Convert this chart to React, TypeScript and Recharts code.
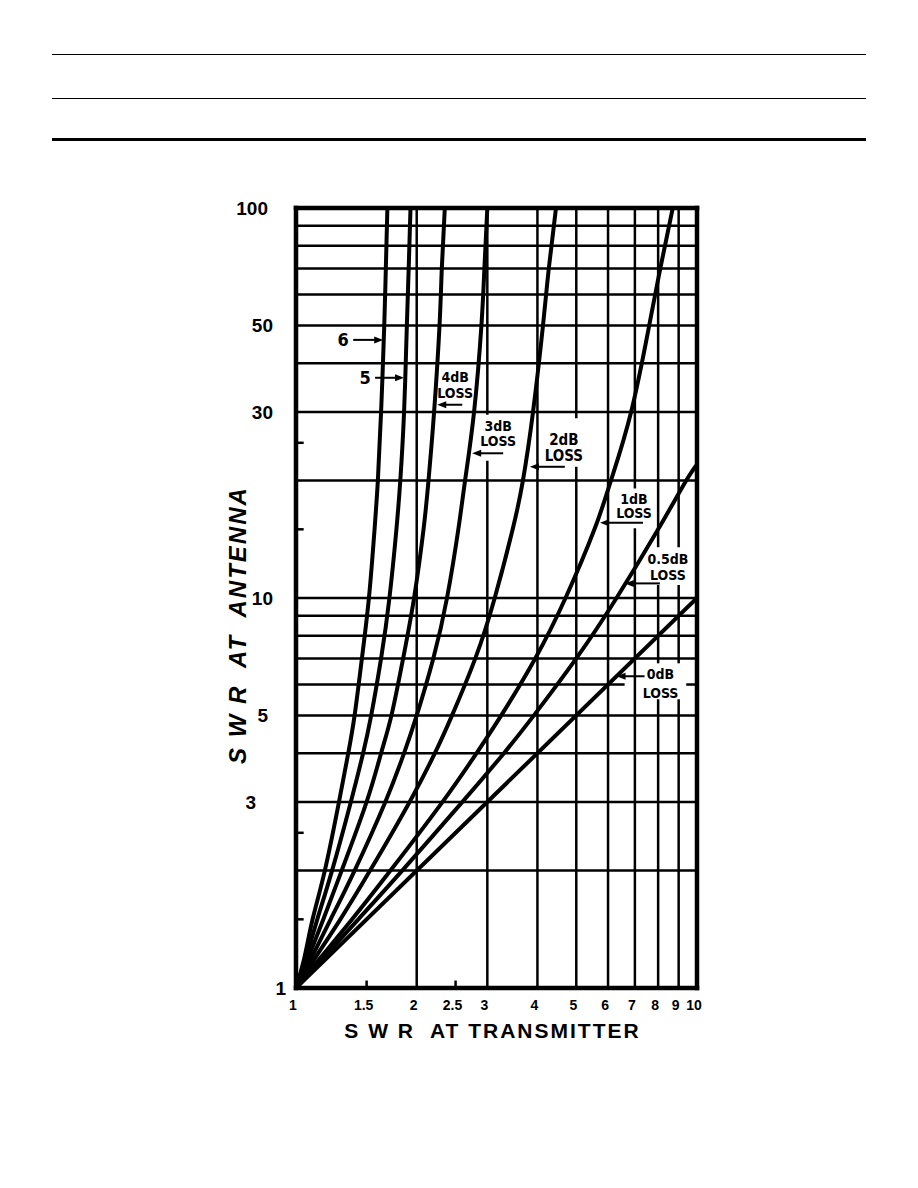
import { LineChart, Line, XAxis, YAxis, ReferenceLine, ReferenceDot } from "recharts"

const xTicks = [1, 1.5, 2, 2.5, 3, 4, 5, 6, 7, 8, 9, 10]
const yTicks = [1, 3, 5, 10, 30, 50, 100]

// SWR at antenna levels where each curve was read
const antennaSwr = [1, 1.2, 1.5, 2, 3, 4, 5, 7, 10, 15, 20, 30, 50, 70, 100]

// SWR at transmitter for each antenna SWR above
const loss6dB = [1, 1.05, 1.1, 1.18, 1.28, 1.35, 1.4, 1.46, 1.52, 1.57, 1.6, 1.63, 1.66, 1.675, 1.69]
const loss5dB = [1, 1.06, 1.13, 1.23, 1.37, 1.47, 1.54, 1.63, 1.71, 1.78, 1.82, 1.86, 1.89, 1.91, 1.93]
const loss4dB = [1, 1.075, 1.17, 1.3, 1.5, 1.63, 1.73, 1.85, 1.97, 2.08, 2.14, 2.21, 2.28, 2.31, 2.35]
const loss3dB = [1, 1.095, 1.22, 1.4, 1.67, 1.86, 2.0, 2.2, 2.38, 2.54, 2.64, 2.78, 2.9, 2.95, 3.0]
const loss2dB = [1, 1.12, 1.29, 1.53, 1.92, 2.22, 2.45, 2.8, 3.13, 3.47, 3.68, 3.9, 4.13, 4.27, 4.45]
const loss1dB = [1, 1.155, 1.38, 1.72, 2.32, 2.82, 3.25, 3.95, 4.7, 5.55, 6.1, 6.85, 7.6, 8.1, 8.7]
// these two leave through the right edge
const loss05dB = [[1, 1], [1.175, 1.2], [1.43, 1.5], [1.84, 2], [2.6, 3], [3.3, 4], [3.92, 5], [5.0, 7], [6.3, 10], [8.0, 15], [9.4, 20], [10, 22]]
const loss0dB = [[1, 1], [10, 10]]

const pairUp = (xs: number[]) => xs.map((x, i) => [x, antennaSwr[i]])
const curves = [loss0dB, loss05dB, pairUp(loss1dB), pairUp(loss2dB), pairUp(loss3dB), pairUp(loss4dB), pairUp(loss5dB), pairUp(loss6dB)]

// grid rules: [value, from, to] along the other axis (gaps where the labels sit)
const hRules = [
  [2, 1, 10], [3, 1, 10], [4, 1, 10], [5, 1, 10], [6, 1, 6.6], [6, 9.4, 10], [7, 1, 10], [8, 1, 10], [9, 1, 10],
  [10, 1, 10], [20, 1, 10], [30, 1, 10], [40, 1, 10], [50, 1, 10], [60, 1, 10], [70, 1, 10], [80, 1, 10], [90, 1, 10],
]
const vRules = [
  [2, 1, 100], [3, 1, 22.5], [3, 29.5, 100], [4, 1, 100], [5, 1, 21.7], [5, 28.9, 100], [6, 1, 100],
  [7, 1, 15.1], [7, 19.1, 100], [8, 1, 5.5], [8, 6.8, 10.8], [8, 13.5, 100], [9, 1, 5.5], [9, 6.8, 10.8], [9, 13.5, 100],
]
const edgeTicksY = [1.5, 2.5, 15, 25]
const edgeTicksX = [1.5, 2.5]

const callouts = [
  { id: "6", text: ["6"], x: 1.65, y: 45.9 },
  { id: "5", text: ["5"], x: 1.86, y: 36.7 },
  { id: "4", text: ["4dB", "LOSS"], x: 2.25, y: 31.3 },
  { id: "3", text: ["3dB", "LOSS"], x: 2.75, y: 23.5 },
  { id: "2", text: ["2dB", "LOSS"], x: 3.83, y: 21.7 },
  { id: "1", text: ["1dB", "LOSS"], x: 5.73, y: 15.6 },
  { id: "0.5", text: ["0.5dB", "LOSS"], x: 6.61, y: 10.9 },
  { id: "0", text: ["0dB", "LOSS"], x: 6.3, y: 6.3 },
]

// pixel offsets of callout text / arrow from the arrow tip
const calloutLayout: Record<string, { tx: number; ty: number; gap: number; arrow: number; size: number }> = {
  "6": { tx: -40, ty: 6, gap: 0, arrow: -30, size: 18 },
  "5": { tx: -39, ty: 6, gap: 0, arrow: -29, size: 18 },
  "4": { tx: 18, ty: -23, gap: 16, arrow: 25, size: 14 },
  "3": { tx: 26, ty: -22, gap: 15, arrow: 31, size: 14 },
  "2": { tx: 34, ty: -22, gap: 16, arrow: 35, size: 15 },
  "1": { tx: 34, ty: -19, gap: 14, arrow: 43, size: 14 },
  "0.5": { tx: 43, ty: -19, gap: 16, arrow: 35, size: 14 },
  "0": { tx: 44, ty: 3, gap: 19, arrow: 28, size: 14 },
}

const font = "'Liberation Sans', Arial, sans-serif"
const narrow = "'Liberation Sans Narrow', 'DejaVu Sans Condensed', 'Liberation Sans', sans-serif"

const toPoints = (pairs: number[][]) => pairs.map(([x, y]) => ({ x, y }))

function Callout({ cx, cy, id, text }: any) {
  const l = calloutLayout[id]
  const dir = l.arrow > 0 ? 1 : -1
  return (
    <g>
      <line x1={cx + l.arrow} y1={cy} x2={cx + dir * 6} y2={cy} stroke="#000" strokeWidth={2} />
      <polygon points={`${cx},${cy} ${cx + dir * 9},${cy - 3.5} ${cx + dir * 9},${cy + 3.5}`} fill="#000" />
      {text.map((t: string, i: number) => (
        <text key={i} x={cx + l.tx} y={cy + l.ty + i * l.gap} textAnchor="middle" fontFamily={narrow} fontWeight="bold" fontSize={l.size} fill="#000">
          {t}
        </text>
      ))}
    </g>
  )
}

const yTickShift: Record<number, number> = { 1: 13, 3: -17, 5: -5, 100: -5 }

function YTick({ x, y, payload }: any) {
  return (
    <text x={x - 15 + (yTickShift[payload.value] ?? 0)} y={y} dy={7} textAnchor="end" fontFamily={font} fontWeight="bold" fontSize={19} fill="#000">
      {payload.value}
    </text>
  )
}

function XTick({ x, y, payload }: any) {
  return (
    <text x={x - 3} y={y} dy={14} textAnchor="middle" fontFamily={font} fontWeight="bold" fontSize={14} fill="#000">
      {payload.value}
    </text>
  )
}

function XTitle({ viewBox }: any) {
  const cx = viewBox.x + viewBox.width / 2 - 4
  return (
    <text x={cx} y={viewBox.y + viewBox.height} textAnchor="middle" fontFamily={font} fontWeight="bold" fontSize={21} letterSpacing={2} fill="#000" style={{ whiteSpace: "pre" }}>
      {"S W R  AT TRANSMITTER"}
    </text>
  )
}

function YTitle({ viewBox }: any) {
  const cx = viewBox.x + 31
  const cy = viewBox.y + viewBox.height / 2 + 27
  return (
    <text x={cx} y={cy} transform={`rotate(-90 ${cx} ${cy})`} textAnchor="middle" dominantBaseline="central" fontFamily={font} fontStyle="italic" fontWeight="bold" fontSize={24} letterSpacing={2} fill="#000" style={{ whiteSpace: "pre" }}>
      {"S W R  AT  ANTENNA"}
    </text>
  )
}

export default function App() {
  return (
    <div style={{ position: "absolute", left: 0, top: 0, width: 918, height: 1188, background: "#fff" }}>
      <div style={{ position: "absolute", left: 52, top: 54, width: 814, height: 1, background: "#000" }} />
      <div style={{ position: "absolute", left: 52, top: 98, width: 814, height: 1, background: "#000" }} />
      <div style={{ position: "absolute", left: 52, top: 138, width: 814, height: 3, background: "#000" }} />
      <LineChart width={918} height={1188} margin={{ top: 208, right: 221, bottom: 150, left: 206 }}>
        <XAxis
          dataKey="x"
          type="number"
          scale="log"
          domain={[1, 10]}
          ticks={xTicks}
          interval={0}
          axisLine={false}
          tickLine={false}
          height={50}
          tick={<XTick />}
          label={<XTitle />}
          allowDataOverflow
        />
        <YAxis
          type="number"
          scale="log"
          domain={[1, 100]}
          ticks={yTicks}
          interval={0}
          axisLine={false}
          tickLine={false}
          width={90}
          tick={<YTick />}
          label={<YTitle />}
          allowDataOverflow
        />
        {hRules.map(([v, a, b], i) => (
          <ReferenceLine key={`h${i}`} segment={[{ x: a, y: v }, { x: b, y: v }]} stroke="#000" strokeWidth={2.5} ifOverflow="visible" />
        ))}
        {vRules.map(([v, a, b], i) => (
          <ReferenceLine key={`v${i}`} segment={[{ x: v, y: a }, { x: v, y: b }]} stroke="#000" strokeWidth={2.5} ifOverflow="visible" />
        ))}
        {edgeTicksY.map((v) => (
          <ReferenceLine key={`ty${v}`} segment={[{ x: 1, y: v }, { x: 1.045, y: v }]} stroke="#000" strokeWidth={2.5} ifOverflow="visible" />
        ))}
        {edgeTicksX.map((v) => (
          <ReferenceLine key={`tx${v}`} segment={[{ x: v, y: 1 }, { x: v, y: 1.045 }]} stroke="#000" strokeWidth={2.5} ifOverflow="visible" />
        ))}
        <ReferenceLine x={1} stroke="#000" strokeWidth={4.5} strokeLinecap="square" ifOverflow="visible" />
        <ReferenceLine x={10} stroke="#000" strokeWidth={4.5} strokeLinecap="square" ifOverflow="visible" />
        <ReferenceLine y={1} stroke="#000" strokeWidth={4.5} strokeLinecap="square" ifOverflow="visible" />
        <ReferenceLine y={100} stroke="#000" strokeWidth={4.5} strokeLinecap="square" ifOverflow="visible" />
        {curves.map((c, i) => (
          <Line
            key={i}
            data={toPoints(c)}
            dataKey="y"
            type={i === 0 ? "linear" : "natural"}
            stroke="#000"
            strokeWidth={4}
            dot={false}
            activeDot={false}
            isAnimationActive={false}
          />
        ))}
        {callouts.map((c) => (
          <ReferenceDot
            key={c.id}
            x={c.x}
            y={c.y}
            r={0}
            ifOverflow="visible"
            shape={(p: any) => <Callout cx={p.cx} cy={p.cy} id={c.id} text={c.text} />}
          />
        ))}
      </LineChart>
    </div>
  )
}
